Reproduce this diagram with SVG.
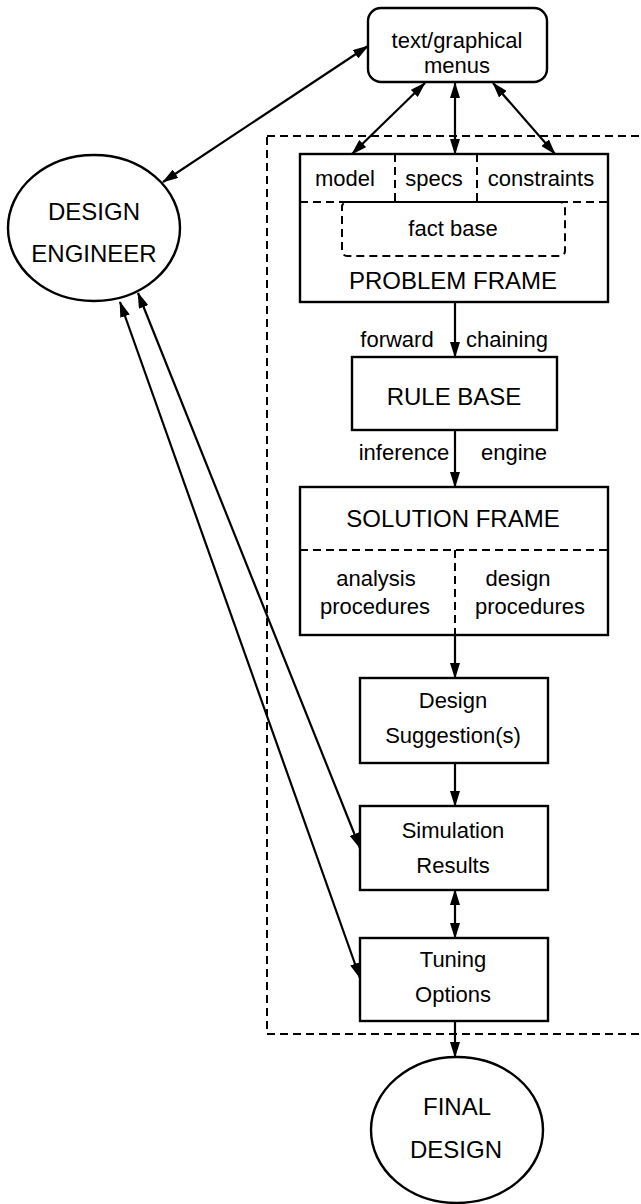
<svg xmlns="http://www.w3.org/2000/svg" width="641" height="1204" viewBox="0 0 641 1204">
<defs>
<marker id="ah" markerUnits="userSpaceOnUse" markerWidth="16" markerHeight="10" refX="15" refY="5" orient="auto-start-reverse" viewBox="0 0 16 10">
<path d="M0,0 L16,5 L0,10 z" fill="#000"/>
</marker>
<style>
.box{fill:#fff;stroke:#000;stroke-width:2.4}
.dash{fill:none;stroke:#000;stroke-width:2;stroke-dasharray:8 5}
.ln{fill:none;stroke:#000;stroke-width:2.2}
.one{marker-end:url(#ah)}
.two{marker-start:url(#ah);marker-end:url(#ah)}
text{font-family:"Liberation Sans",Arial,sans-serif;font-size:22px;fill:#000;text-anchor:middle}
.cap{font-size:24px}
</style>
</defs>
<rect width="641" height="1204" fill="#fff"/>
<g id="outer-frame">
<rect class="dash" x="267" y="136" width="400" height="898"/>
</g>
<g id="design-engineer">
<ellipse class="box" cx="94" cy="228" rx="86" ry="73"/>
<text class="cap" x="94" y="220">DESIGN</text>
<text class="cap" x="94" y="262">ENGINEER</text>
</g>
<g id="menus">
<rect class="box" x="368" y="8" width="179" height="74" rx="13"/>
<text x="457" y="48">text/graphical</text>
<text x="457" y="73">menus</text>
</g>
<g id="problem-frame">
<rect class="box" x="300" y="154" width="308" height="148"/>
<line class="dash" x1="300" y1="202" x2="608" y2="202"/>
<line class="dash" x1="395" y1="154" x2="395" y2="202"/>
<line class="dash" x1="477" y1="154" x2="477" y2="202"/>
<rect class="dash" x="342" y="202" width="223" height="54" rx="5"/>
<text x="345" y="186">model</text>
<text x="434" y="186">specs</text>
<text x="541" y="186">constraints</text>
<text x="453" y="236">fact base</text>
<text class="cap" x="453" y="289">PROBLEM FRAME</text>
</g>
<g id="rule-base">
<rect class="box" x="352" y="357" width="205" height="73"/>
<text class="cap" x="454" y="405">RULE BASE</text>
</g>
<g id="solution-frame">
<rect class="box" x="300" y="487" width="308" height="148"/>
<line class="dash" x1="300" y1="550" x2="608" y2="550"/>
<line class="dash" x1="455" y1="550" x2="455" y2="635"/>
<text class="cap" x="453" y="527">SOLUTION FRAME</text>
<text x="376" y="586">analysis</text>
<text x="375" y="614">procedures</text>
<text x="518" y="586">design</text>
<text x="530" y="614">procedures</text>
</g>
<g id="design-suggestions">
<rect class="box" x="360" y="678" width="188" height="85"/>
<text x="453" y="708">Design</text>
<text x="453" y="743">Suggestion(s)</text>
</g>
<g id="simulation-results">
<rect class="box" x="360" y="806" width="188" height="84"/>
<text x="453" y="838">Simulation</text>
<text x="453" y="873">Results</text>
</g>
<g id="tuning-options">
<rect class="box" x="360" y="938" width="188" height="83"/>
<text x="453" y="967">Tuning</text>
<text x="453" y="1002">Options</text>
</g>
<g id="final-design">
<ellipse class="box" cx="457" cy="1130" rx="86" ry="73"/>
<text class="cap" x="457" y="1115">FINAL</text>
<text class="cap" x="456" y="1158">DESIGN</text>
</g>
<g id="connectors">
<line class="ln two" x1="368" y1="46" x2="163" y2="182"/>
<line class="ln two" x1="425" y1="83" x2="352" y2="154"/>
<line class="ln two" x1="455" y1="83" x2="455" y2="154"/>
<line class="ln two" x1="493" y1="83" x2="555" y2="154"/>
<line class="ln one" x1="455" y1="302" x2="455" y2="357"/>
<line class="ln one" x1="455" y1="430" x2="455" y2="487"/>
<line class="ln one" x1="455" y1="635" x2="455" y2="678"/>
<line class="ln one" x1="455" y1="763" x2="455" y2="806"/>
<line class="ln two" x1="455" y1="890" x2="455" y2="938"/>
<line class="ln one" x1="455" y1="1021" x2="455" y2="1057"/>
<line class="ln two" x1="138" y1="293" x2="360" y2="848"/>
<line class="ln two" x1="120" y1="302" x2="360" y2="978"/>
<text x="397" y="347">forward</text>
<text x="507" y="347">chaining</text>
<text x="404" y="460">inference</text>
<text x="514" y="460">engine</text>
</g>
</svg>
